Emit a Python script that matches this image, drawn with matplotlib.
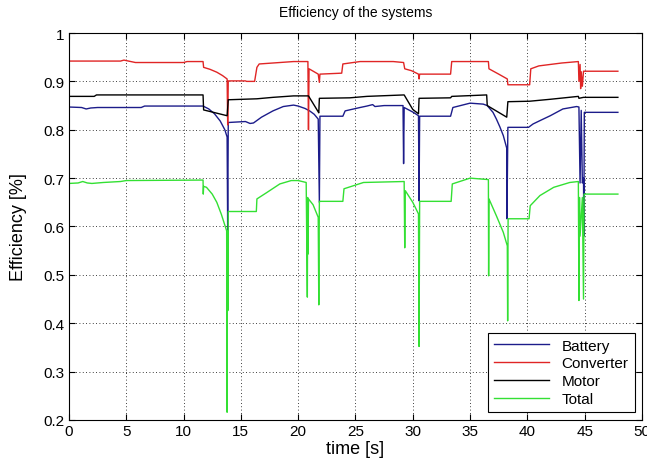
import numpy as np
import matplotlib.pyplot as plt

plt.rcParams['font.family'] = ['Liberation Sans', 'DejaVu Sans']

# ---- data (time [s], efficiency) ----
bat_t = [0, 1.1, 1.5, 1.9, 2.5, 6.3, 6.6, 11.7, 12.2, 12.7, 13.2, 13.6, 13.8, 13.85, 13.9,
         15.4, 15.8, 16.1, 16.8, 17.8, 18.7, 19.6, 20.0, 20.6, 21.0, 21.4, 21.75, 21.85, 21.9,
         23.9, 24.1, 25.4, 26.0, 26.5, 26.7, 27.5, 29.15, 29.2, 29.25, 30.05, 30.5, 30.55, 30.6,
         33.3, 33.5, 35.0, 36.15, 36.5, 37.0, 37.3, 37.6, 37.9, 38.2, 38.22, 38.3,
         40.1, 40.5, 41.2, 42.0, 43.1, 44.3, 44.5, 44.6, 44.7, 44.8, 44.9, 44.93, 44.97, 47.9]
bat_y = [0.847, 0.846, 0.843, 0.845, 0.846, 0.846, 0.849, 0.849, 0.843, 0.833, 0.818, 0.800, 0.785, 0.59, 0.815,
         0.817, 0.813, 0.814, 0.826, 0.839, 0.848, 0.851, 0.849, 0.844, 0.839, 0.832, 0.822, 0.65, 0.828,
         0.828, 0.839, 0.846, 0.849, 0.852, 0.848, 0.850, 0.850, 0.73, 0.846, 0.836, 0.829, 0.653, 0.828,
         0.828, 0.846, 0.855, 0.853, 0.850, 0.836, 0.822, 0.806, 0.788, 0.762, 0.616, 0.805,
         0.805, 0.812, 0.820, 0.829, 0.843, 0.848, 0.847, 0.69, 0.84, 0.69, 0.70, 0.58, 0.836, 0.836]

conv_t = [0, 4.5, 4.8, 5.2, 5.8, 10.0, 10.3, 11.7, 11.75, 12.3, 12.9, 13.4, 13.8, 13.85, 13.9,
          15.4, 15.5, 16.2, 16.4, 16.6, 19.6, 20.85, 20.9, 20.95, 21.75, 21.85, 21.9, 23.8, 23.9,
          25.4, 28.3, 29.2, 29.3, 29.9, 30.5, 30.55, 30.6, 33.3, 33.4, 36.6, 36.65, 37.5, 38.25,
          38.3, 40.2, 40.3, 41.0, 43.0, 44.45, 44.5, 44.6, 44.65, 44.7, 44.8, 44.9, 47.9]
conv_y = [0.942, 0.942, 0.944, 0.942, 0.939, 0.939, 0.941, 0.941, 0.929, 0.925, 0.919, 0.912, 0.905, 0.81, 0.901,
          0.901, 0.900, 0.900, 0.929, 0.936, 0.941, 0.941, 0.80, 0.926, 0.915, 0.898, 0.915, 0.917, 0.936,
          0.941, 0.941, 0.939, 0.926, 0.922, 0.915, 0.905, 0.915, 0.915, 0.941, 0.941, 0.926, 0.915, 0.905,
          0.893, 0.893, 0.926, 0.932, 0.938, 0.941, 0.90, 0.935, 0.885, 0.92, 0.89, 0.921, 0.921]

mot_t = [0, 2.2, 2.4, 11.7, 11.75, 13.8, 13.9, 16.4, 17.8, 19.6, 20.9, 21.7, 21.8, 21.85,
         24.5, 26.0, 29.25, 30.0, 30.5, 30.55, 33.3, 33.4, 36.45, 36.5, 38.2, 38.3,
         40.2, 42.0, 44.45, 44.5, 44.9, 47.9]
mot_y = [0.869, 0.869, 0.872, 0.872, 0.841, 0.829, 0.862, 0.864, 0.867, 0.870, 0.870, 0.839, 0.835, 0.865,
         0.866, 0.869, 0.872, 0.842, 0.833, 0.865, 0.866, 0.869, 0.872, 0.850, 0.826, 0.858,
         0.859, 0.863, 0.869, 0.865, 0.867, 0.867]

tot_t = [0, 0.8, 1.2, 1.6, 2.0, 3.0, 4.5, 5.0, 11.7, 11.72, 11.75, 12.0, 12.5, 12.9, 13.3, 13.76,
         13.8, 13.83, 13.86, 13.9, 16.35, 16.4, 17.25, 18.4, 19.4, 20.0, 20.7, 20.8, 20.83, 20.86, 20.9,
         21.3, 21.75, 21.8, 21.85, 23.9, 24.0, 25.7, 29.25, 29.3, 29.35, 30.0, 30.5, 30.55, 30.6,
         33.35, 33.45, 35.0, 36.6, 36.62, 36.65, 37.3, 37.9, 38.25, 38.28, 38.32,
         40.15, 40.25, 41.1, 42.3, 43.7, 44.45, 44.5, 44.55, 44.6, 44.8, 44.9, 44.95, 47.9]
tot_y = [0.689, 0.690, 0.693, 0.690, 0.689, 0.691, 0.693, 0.695, 0.696, 0.667, 0.683, 0.681, 0.667, 0.650, 0.625, 0.591,
         0.216, 0.59, 0.426, 0.631, 0.631, 0.657, 0.670, 0.688, 0.695, 0.695, 0.691, 0.454, 0.66, 0.543, 0.657,
         0.645, 0.619, 0.438, 0.652, 0.652, 0.678, 0.691, 0.693, 0.556, 0.674, 0.650, 0.626, 0.352, 0.652,
         0.652, 0.688, 0.700, 0.697, 0.498, 0.657, 0.622, 0.588, 0.560, 0.405, 0.616,
         0.616, 0.643, 0.664, 0.681, 0.691, 0.693, 0.447, 0.66, 0.58, 0.66, 0.45, 0.667, 0.667]

fig = plt.figure(figsize=(6.47, 4.64), dpi=100)
ax = fig.add_axes([0.1066, 0.0927, 0.8856, 0.834])

ax.plot(bat_t, bat_y, color='#1c1c8a', lw=1, label='Battery')
ax.plot(conv_t, conv_y, color='#e02525', lw=1, label='Converter')
ax.plot(mot_t, mot_y, color='black', lw=1, label='Motor')
ax.plot(tot_t, tot_y, color='#33e033', lw=1, label='Total')

ax.set_xlim(0, 50)
ax.set_ylim(0.2, 1)
ax.set_xticks(np.arange(0, 51, 5))
ax.set_yticks(np.arange(0.2, 1.01, 0.1))
ax.set_yticklabels(['0.2', '0.3', '0.4', '0.5', '0.6', '0.7', '0.8', '0.9', '1'])
ax.tick_params(direction='in', top=True, right=True, length=4, labelsize=11, pad=3)
ax.grid(True, color='black', linestyle=(0, (1, 3)), linewidth=0.6)
for s in ax.spines.values():
    s.set_linewidth(0.8)

ax.set_title('Efficiency of the systems', fontsize=10, pad=12)
ax.set_xlabel('time [s]', fontsize=13, labelpad=1)
ax.set_ylabel('Efficiency [%]', fontsize=13, labelpad=12)

leg = ax.legend(loc='lower right', bbox_to_anchor=(0.987, 0.02), fontsize=11,
                handlelength=3.6, labelspacing=0.25, borderpad=0.4, fancybox=False,
                framealpha=1, edgecolor='black', borderaxespad=0)
leg.get_frame().set_linewidth(0.8)

plt.savefig('out.png', dpi=100)
